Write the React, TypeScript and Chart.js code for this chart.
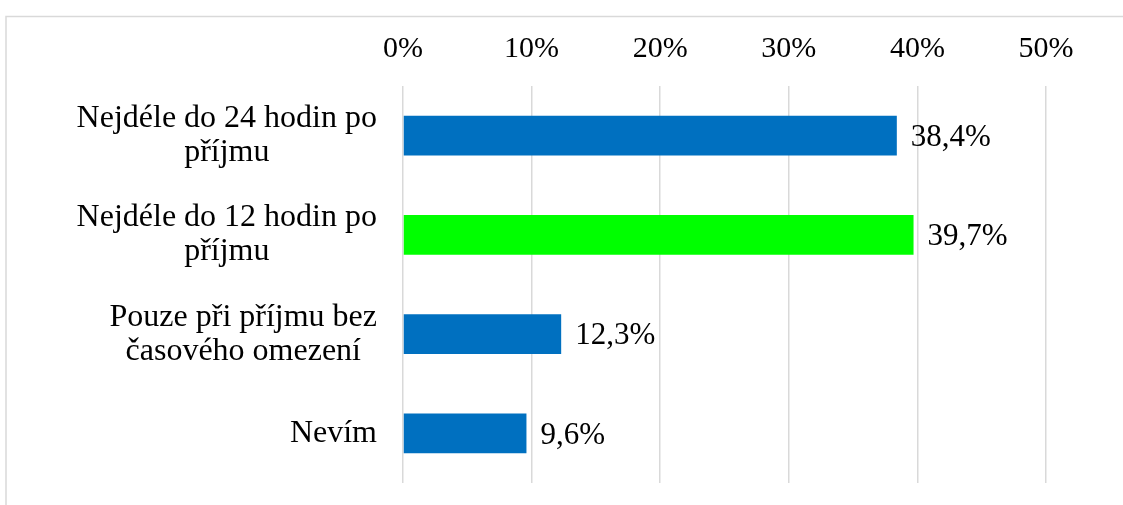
import React, { useEffect, useRef } from "react";
import { Chart, registerables } from "chart.js";

Chart.register(...registerables);

const categories: string[][] = [
  ["Nejdéle do 24 hodin po", "příjmu"],
  ["Nejdéle do 12 hodin po", "příjmu"],
  ["Pouze při příjmu bez", "časového omezení"],
  ["Nevím"],
];
const values: number[] = [38.4, 39.7, 12.3, 9.6];
const barColors: string[] = ["#0070C0", "#00FF00", "#0070C0", "#0070C0"];
const xMin = 0;
const xMax = 50;
const xStep = 10;

const FONT = '"Liberation Serif", "Times New Roman", serif';

const fmtValue = (v: number) => v.toFixed(1).replace(".", ",") + "%";

const framePlugin = {
  id: "frame",
  beforeDraw(chart: any) {
    const ctx = chart.ctx;
    ctx.save();
    ctx.fillStyle = "#ffffff";
    ctx.fillRect(0, 0, chart.width, chart.height);
    ctx.strokeStyle = "#d9d9d9";
    ctx.lineWidth = 1.5;
    ctx.strokeRect(6, 16.5, chart.width + 100, chart.height + 100);
    ctx.restore();
  },
};

const labelsPlugin = {
  id: "customLabels",
  afterDraw(chart: any) {
    const ctx = chart.ctx;
    const yScale = chart.scales.y;
    const xScale = chart.scales.x;
    const area = chart.chartArea;
    ctx.save();
    ctx.fillStyle = "#000000";
    // category labels: block right-aligned, lines centered within block
    ctx.font = `32px ${FONT}`;
    ctx.textAlign = "center";
    ctx.textBaseline = "middle";
    const lineH = 34;
    const rightEdge = area.left - 26;
    categories.forEach((lines, i) => {
      const maxW = Math.max(...lines.map((l) => ctx.measureText(l).width));
      const cx = rightEdge - maxW / 2;
      const cy = yScale.getPixelForValue(i);
      const startY = cy - ((lines.length - 1) * lineH) / 2;
      lines.forEach((l, j) => ctx.fillText(l, cx, startY + j * lineH));
    });
    // value labels
    ctx.font = `31px ${FONT}`;
    ctx.textAlign = "left";
    values.forEach((v, i) => {
      const x = xScale.getPixelForValue(v) + 14;
      const y = yScale.getPixelForValue(i) + 2;
      ctx.fillText(fmtValue(v), x, y);
    });
    ctx.restore();
  },
};

export default function App() {
  const canvasRef = useRef<HTMLCanvasElement | null>(null);

  useEffect(() => {
    if (!canvasRef.current) return;
    const chart = new Chart(canvasRef.current, {
      type: "bar",
      data: {
        labels: categories.map((c) => c.join(" ")),
        datasets: [
          {
            data: values,
            backgroundColor: barColors,
            borderWidth: 0,
            barPercentage: 0.4,
            categoryPercentage: 1,
          },
        ],
      },
      options: {
        indexAxis: "y",
        animation: false,
        responsive: true,
        maintainAspectRatio: false,
        layout: { padding: { left: 403, right: 77, top: 12, bottom: 22 } },
        plugins: {
          legend: { display: false },
          tooltip: { enabled: false },
        },
        scales: {
          x: {
            position: "top",
            min: xMin,
            max: xMax,
            ticks: {
              stepSize: xStep,
              padding: 19,
              color: "#000000",
              font: { family: FONT, size: 30, lineHeight: 1.2 },
              callback: (v: any) => `${v}%`,
            },
            grid: { color: "#d9d9d9", lineWidth: 1.5, drawTicks: false },
            border: { display: false },
          },
          y: {
            display: false,
          },
        },
      },
      plugins: [framePlugin, labelsPlugin],
    });
    return () => chart.destroy();
  }, []);

  return (
    <div style={{ position: "fixed", left: 0, top: 0, width: 1123, height: 505 }}>
      <canvas ref={canvasRef} />
    </div>
  );
}
